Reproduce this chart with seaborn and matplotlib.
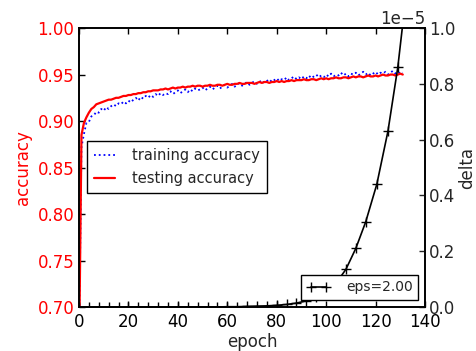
import matplotlib
matplotlib.use("Agg")
import matplotlib.pyplot as plt
import seaborn as sns

# epochs for the accuracy curves
epochs = list(range(132))

# testing accuracy (red solid)
test_acc = [
    0.640, 0.885, 0.898, 0.904, 0.909, 0.913, 0.915, 0.918, 0.919, 0.920,
    0.921, 0.922, 0.923, 0.923, 0.924, 0.925, 0.925, 0.926, 0.927, 0.927,
    0.928, 0.928, 0.929, 0.929, 0.930, 0.930, 0.931, 0.931, 0.932, 0.932,
    0.933, 0.933, 0.933, 0.934, 0.934, 0.935, 0.934, 0.935, 0.936, 0.935,
    0.936, 0.936, 0.937, 0.936, 0.937, 0.937, 0.938, 0.937, 0.938, 0.938,
    0.937, 0.938, 0.938, 0.939, 0.938, 0.938, 0.939, 0.939, 0.938, 0.939,
    0.940, 0.939, 0.939, 0.940, 0.940, 0.941, 0.940, 0.940, 0.941, 0.941,
    0.941, 0.940, 0.941, 0.942, 0.941, 0.942, 0.942, 0.941, 0.942, 0.942,
    0.943, 0.942, 0.943, 0.942, 0.943, 0.943, 0.944, 0.943, 0.944, 0.944,
    0.944, 0.945, 0.944, 0.944, 0.945, 0.945, 0.944, 0.945, 0.946, 0.945,
    0.946, 0.945, 0.946, 0.946, 0.947, 0.946, 0.946, 0.947, 0.947, 0.946,
    0.947, 0.948, 0.947, 0.948, 0.948, 0.947, 0.948, 0.949, 0.948, 0.948,
    0.949, 0.948, 0.949, 0.950, 0.949, 0.949, 0.950, 0.950, 0.949, 0.950,
    0.951, 0.950,
]

# training accuracy (blue dotted)
train_acc = [
    0.660, 0.872, 0.886, 0.898, 0.899, 0.905, 0.906, 0.910, 0.909, 0.913,
    0.911, 0.915, 0.913, 0.916, 0.918, 0.916, 0.919, 0.918, 0.921, 0.919,
    0.922, 0.920, 0.923, 0.925, 0.922, 0.926, 0.924, 0.927, 0.925, 0.928,
    0.926, 0.929, 0.927, 0.930, 0.928, 0.930, 0.929, 0.932, 0.929, 0.931,
    0.933, 0.930, 0.932, 0.934, 0.931, 0.934, 0.932, 0.935, 0.933, 0.934,
    0.936, 0.933, 0.935, 0.937, 0.934, 0.936, 0.938, 0.935, 0.937, 0.939,
    0.936, 0.938, 0.940, 0.937, 0.939, 0.941, 0.938, 0.940, 0.942, 0.939,
    0.941, 0.943, 0.940, 0.942, 0.944, 0.941, 0.943, 0.945, 0.942, 0.944,
    0.946, 0.943, 0.945, 0.944, 0.947, 0.944, 0.946, 0.948, 0.945, 0.947,
    0.945, 0.948, 0.946, 0.949, 0.946, 0.948, 0.950, 0.947, 0.949, 0.947,
    0.950, 0.948, 0.951, 0.948, 0.950, 0.949, 0.952, 0.949, 0.951, 0.948,
    0.951, 0.950, 0.952, 0.949, 0.951, 0.953, 0.950, 0.952, 0.949, 0.951,
    0.953, 0.950, 0.952, 0.951, 0.953, 0.950, 0.952, 0.954, 0.951, 0.953,
    0.951, 0.952,
]

# delta (right axis, units of 1e-5)
delta_epochs = [0, 4, 8, 12, 16, 20, 24, 28, 32, 36, 40, 44, 48, 52, 56,
                60, 64, 68, 72, 76, 80, 84, 88, 92, 96, 100, 104, 108,
                112, 116, 120.5, 125, 129, 133]
delta_e5 = [0.0, 0.0, 0.0, 0.0, 0.0, 0.0, 0.0, 0.0, 0.0, 0.0, 0.0, 0.0,
            0.0, 0.0, 0.0, 0.001, 0.001, 0.002, 0.003, 0.004, 0.006, 0.009,
            0.014, 0.022, 0.035, 0.055, 0.085, 0.135, 0.21, 0.305, 0.44,
            0.63, 0.86, 1.17]
delta = [d * 1e-5 for d in delta_e5]

sns.set_style("ticks", {"xtick.direction": "in", "ytick.direction": "in",
                        "axes.edgecolor": "black"})
plt.rcParams['font.family'] = ['DejaVu Sans']
plt.rcParams['font.size'] = 12

fig = plt.figure(figsize=(4.77, 3.51), dpi=100)
ax = fig.add_axes([0.1656, 0.1254, 0.7254, 0.7946])
ax2 = ax.twinx()

sns.lineplot(x=epochs, y=train_acc, ax=ax, color='blue', linestyle=':',
             linewidth=1.3, label='training accuracy')
sns.lineplot(x=epochs, y=test_acc, ax=ax, color='red', linestyle='-',
             linewidth=1.6, label='testing accuracy')
sns.lineplot(x=delta_epochs, y=delta, ax=ax2, color='black', linewidth=1.2,
             marker='+', markersize=7, markeredgewidth=1.0,
             markeredgecolor='black', label='eps=2.00')

ax.set_xlim(0, 140)
ax.set_ylim(0.70, 1.00)
ax2.set_ylim(0, 1e-5)
ax.set_xticks([0, 20, 40, 60, 80, 100, 120, 140])
ax.set_yticks([0.70, 0.75, 0.80, 0.85, 0.90, 0.95, 1.00])
ax.set_yticklabels(['0.70', '0.75', '0.80', '0.85', '0.90', '0.95', '1.00'])
ax2.set_yticks([0, 0.2e-5, 0.4e-5, 0.6e-5, 0.8e-5, 1.0e-5])

ax.set_xlabel('epoch', fontsize=12, labelpad=2)
ax.set_ylabel('accuracy', color='red', fontsize=12, labelpad=4)
ax2.set_ylabel('delta', fontsize=12, labelpad=2)

ax.tick_params(axis='x', direction='in', top=True, length=4, width=1,
               labelsize=12, pad=4, colors='black')
ax.tick_params(axis='y', direction='in', right=False, length=4, width=1,
               labelsize=12, labelcolor='red', color='black')
ax2.tick_params(axis='y', direction='in', length=4, width=1, labelsize=12,
                pad=3)
ax2.yaxis.get_offset_text().set_fontsize(12)

for a in (ax, ax2):
    for s in a.spines.values():
        s.set_linewidth(1.2)
        s.set_color('black')

leg1 = ax.legend(loc='lower left', bbox_to_anchor=(0.023, 0.409),
                 borderaxespad=0, fontsize=10.5, fancybox=False,
                 framealpha=1, edgecolor='black', borderpad=0.5,
                 handlelength=1.4, handletextpad=1.2)
leg1.get_frame().set_linewidth(1.0)
leg2 = ax2.legend(loc='lower right', bbox_to_anchor=(0.98, 0.025),
                  borderaxespad=0, fontsize=10, fancybox=False,
                  framealpha=1, edgecolor='black', numpoints=2,
                  handlelength=1.7, handletextpad=1.1, borderpad=0.4)
leg2.get_frame().set_linewidth(1.0)

fig.savefig('out.png', dpi=100)
